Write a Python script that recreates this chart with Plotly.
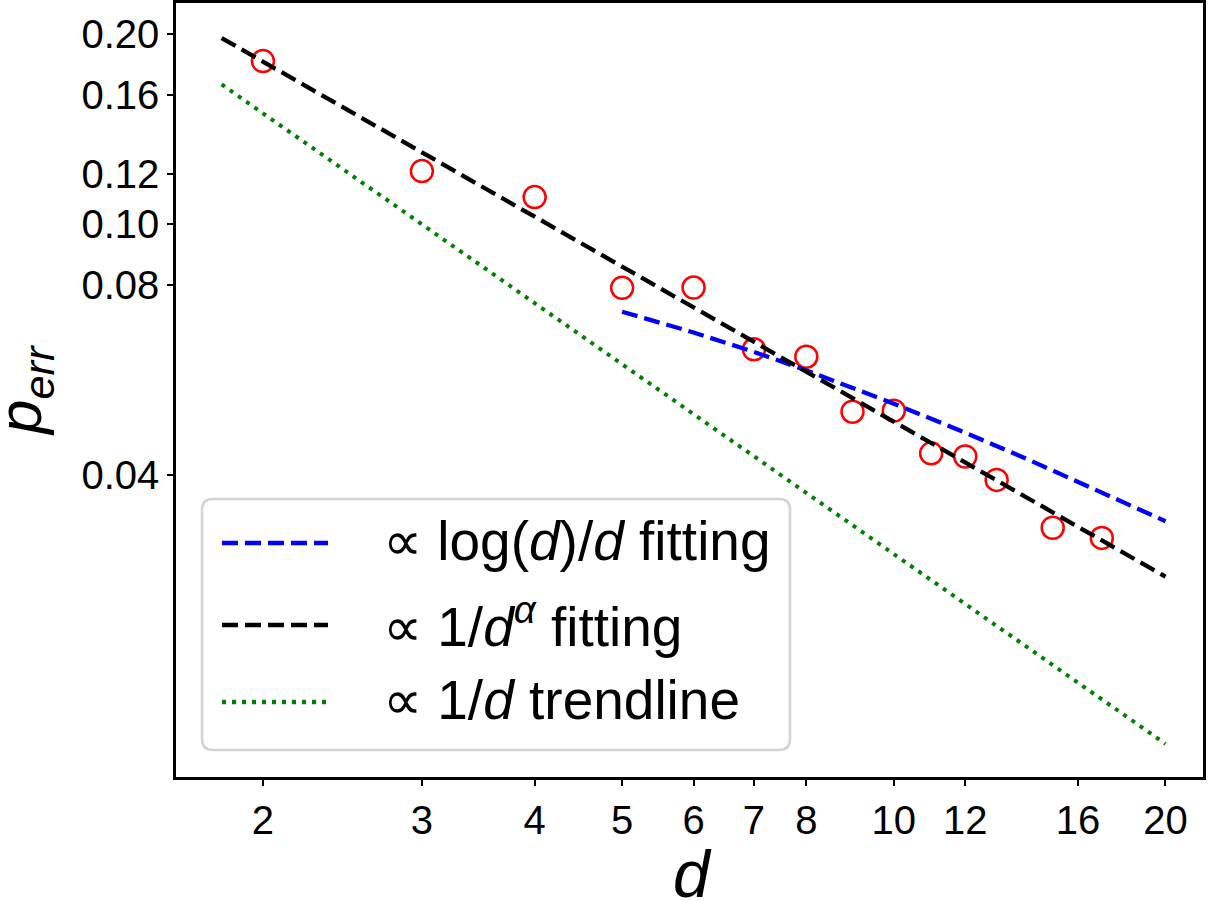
import plotly.graph_objects as go

# ---------------- data ----------------
d_vals = [2, 3, 4, 5, 6, 7, 8, 9, 10, 11, 12, 13, 15, 17]
p_err = [0.1812, 0.1213, 0.1103, 0.0792, 0.0793, 0.0633, 0.0616,
         0.0504, 0.0506, 0.0433, 0.0428, 0.0393, 0.0330, 0.0318]

logfit_d = [5, 6, 7, 8, 10, 12, 14, 17, 20]
logfit_p = [0.0726, 0.0673, 0.0627, 0.0586, 0.0519, 0.0467, 0.0425, 0.0376, 0.0338]

alphafit_d = [1.8, 20]
alphafit_p = [0.1971, 0.0276]

trend_d = [1.8, 20]
trend_p = [0.1664, 0.0150]

x_ticks = [2, 3, 4, 5, 6, 7, 8, 10, 12, 16, 20]
x_ticklabels = ["2", "3", "4", "5", "6", "7", "8", "10", "12", "16", "20"]
y_ticks = [0.04, 0.08, 0.10, 0.12, 0.16, 0.20]
y_ticklabels = ["0.04", "0.08", "0.10", "0.12", "0.16", "0.20"]

x_title = "<i>d</i>"
y_title = "<i>p<sub>err</sub></i>"

legend_labels = ["\u221d log(<i>d</i>)/<i>d</i> fitting",
                 "\u221d 1/<i>d</i><sup><i>\u03b1</i></sup> fitting",
                 "\u221d 1/<i>d</i> trendline"]
legend_colors = ["blue", "black", "green"]
legend_dashes = ["16px,7px", "16px,7px", "4px,6px"]

# ---------------- layout constants ----------------
W, H = 1221, 901
ML, MR, MT, MB = 176, 18, 3, 124
PW, PH = W - ML - MR, H - MT - MB
FONT = "Liberation Sans, Arial, Helvetica, sans-serif"


def px2x(px):
    return (px - ML) / PW


def px2y(py):
    return (H - MB - py) / PH


fig = go.Figure()

fig.add_trace(go.Scatter(
    x=d_vals, y=p_err, mode="markers",
    marker=dict(symbol="circle-open", size=22, color="red", line=dict(width=2.5)),
    showlegend=False, name="data"))

fig.add_trace(go.Scatter(
    x=logfit_d, y=logfit_p, mode="lines",
    line=dict(color=legend_colors[0], width=4.3, dash=legend_dashes[0]),
    showlegend=False, name="log(d)/d fitting"))

fig.add_trace(go.Scatter(
    x=alphafit_d, y=alphafit_p, mode="lines",
    line=dict(color=legend_colors[1], width=4.3, dash=legend_dashes[1]),
    showlegend=False, name="1/d^alpha fitting"))

fig.add_trace(go.Scatter(
    x=trend_d, y=trend_p, mode="lines",
    line=dict(color=legend_colors[2], width=4, dash=legend_dashes[2]),
    showlegend=False, name="1/d trendline"))

# ---------------- manual legend ----------------
bx0, bx1, by0, by1, r = 202, 790, 499, 750, 11
X0, X1 = px2x(bx0), px2x(bx1)
Y0, Y1 = px2y(by0), px2y(by1)
rx, ry = r / PW, r / PH
path = (f"M {X0+rx},{Y0} L {X1-rx},{Y0} Q {X1},{Y0} {X1},{Y0-ry} "
        f"L {X1},{Y1+ry} Q {X1},{Y1} {X1-rx},{Y1} "
        f"L {X0+rx},{Y1} Q {X0},{Y1} {X0},{Y1+ry} "
        f"L {X0},{Y0-ry} Q {X0},{Y0} {X0+rx},{Y0} Z")
shapes = [dict(type="path", path=path, xref="paper", yref="paper",
               line=dict(color="#d3d3d3", width=2.5),
               fillcolor="rgba(255,255,255,0.8)", layer="above")]

row_y = [543, 625, 702]
annotations = []
for lab, col, dash, ry_px in zip(legend_labels, legend_colors, legend_dashes, row_y):
    shapes.append(dict(type="line", xref="paper", yref="paper",
                       x0=px2x(222), x1=px2x(328), y0=px2y(ry_px), y1=px2y(ry_px),
                       line=dict(color=col, width=4.3, dash=dash), layer="above"))
    annotations.append(dict(text=lab, xref="paper", yref="paper",
                            x=px2x(381), y=px2y(ry_px - 2), xanchor="left", yanchor="middle",
                            showarrow=False, font=dict(family=FONT, size=55, color="black")))

# axis titles as annotations for exact placement
annotations.append(dict(text=x_title, xref="paper", yref="paper",
                        x=px2x(692), y=px2y(874), xanchor="center", yanchor="middle",
                        showarrow=False, font=dict(family=FONT, size=66, color="black")))
annotations.append(dict(text=y_title, xref="paper", yref="paper", textangle=-90,
                        x=px2x(24), y=px2y(391), xanchor="center", yanchor="middle",
                        showarrow=False, font=dict(family=FONT, size=62, color="black")))

axis_common = dict(
    type="log", showgrid=False, zeroline=False, automargin=False,
    showline=True, linecolor="black", linewidth=2.5, mirror=True,
    ticks="outside", ticklen=6, tickwidth=2, tickcolor="black",
    tickfont=dict(family=FONT, size=40, color="black"),
)

fig.update_layout(
    width=W, height=H,
    margin=dict(l=ML, r=MR, t=MT, b=MB),
    paper_bgcolor="white", plot_bgcolor="white",
    font=dict(family=FONT, color="black"),
    showlegend=False,
    shapes=shapes, annotations=annotations,
    xaxis=dict(axis_common, range=[0.2047, 1.3426],
               tickvals=x_ticks, ticktext=x_ticklabels),
    yaxis=dict(axis_common, range=[-1.8765, -0.6498],
               tickvals=y_ticks, ticktext=y_ticklabels),
)

fig.write_html("out.html",
               config={"displayModeBar": False},
               post_script="document.body.style.margin='0';document.body.style.overflow='hidden';")
